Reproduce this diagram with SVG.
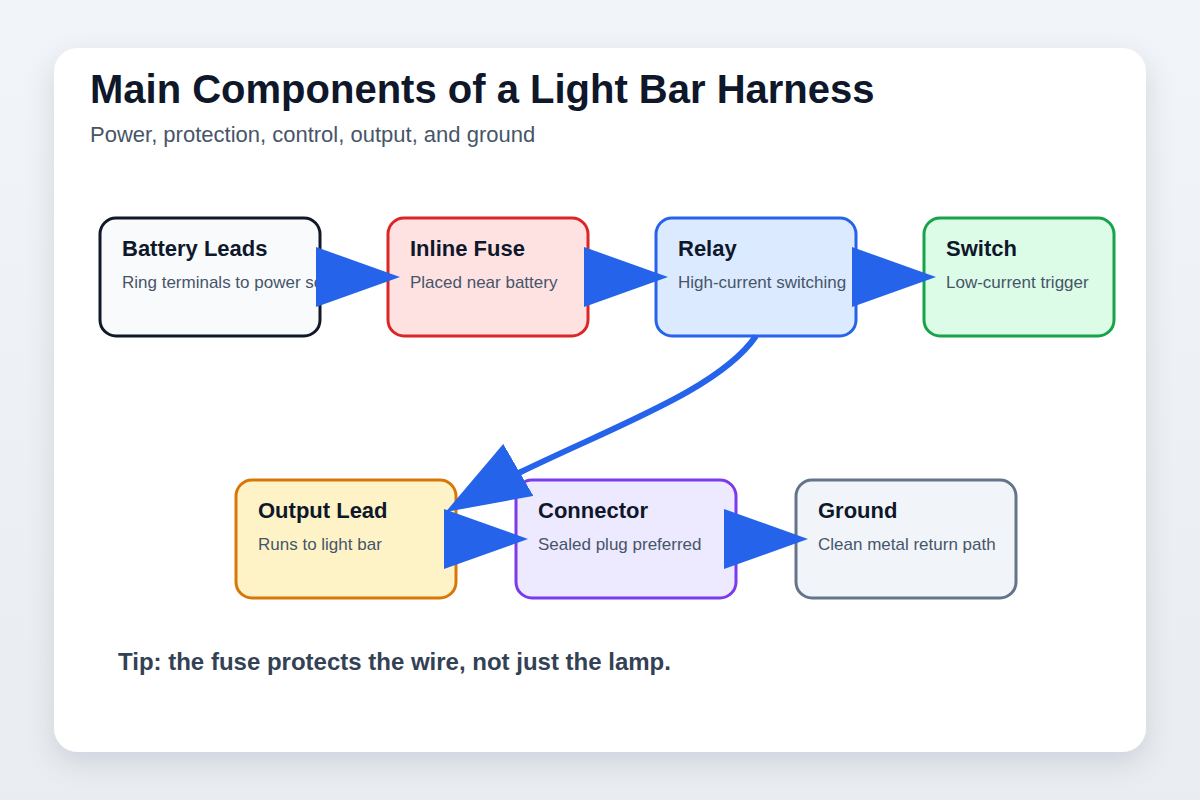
<svg xmlns="http://www.w3.org/2000/svg" width="1200" height="800" viewBox="0 0 1200 800">
  <style>
    .title { font-family: "Liberation Sans", Arial, sans-serif; font-weight: 700; font-size: 40px; fill: #0f172a; }
    .sub { font-family: "Liberation Sans", Arial, sans-serif; font-size: 22px; fill: #475569; }
    .nt { font-family: "Liberation Sans", Arial, sans-serif; font-weight: 700; font-size: 22px; fill: #0f172a; }
    .nd { font-family: "Liberation Sans", Arial, sans-serif; font-size: 17px; fill: #475569; }
    .tip { font-family: "Liberation Sans", Arial, sans-serif; font-weight: 700; font-size: 24px; fill: #334155; }
    .box { stroke-width: 3; }
    .edge { fill: none; stroke: #2563eb; stroke-width: 6; marker-end: url(#arrow); }
  </style>
  <defs>
    <linearGradient id="bg" x1="0" y1="0" x2="0" y2="1">
      <stop offset="0" stop-color="#f1f4f8"/>
      <stop offset="1" stop-color="#e9edf2"/>
    </linearGradient>
    <filter id="shadow" x="-10%" y="-10%" width="120%" height="125%">
      <feDropShadow dx="0" dy="10" stdDeviation="14" flood-color="#0f172a" flood-opacity="0.12"/>
    </filter>
    <marker id="arrow" viewBox="0 0 14 10" refX="12" refY="5" markerWidth="14" markerHeight="10" orient="auto" markerUnits="strokeWidth">
      <path d="M0,0 L14,5 L0,10 z" fill="#2563eb"/>
    </marker>
  </defs>
  <rect width="1200" height="800" fill="url(#bg)"/>
  <rect x="54" y="48" width="1092" height="704" rx="24" fill="#ffffff" filter="url(#shadow)"/>
  <text class="title" x="90" y="103">Main Components of a Light Bar Harness</text>
  <text class="sub" x="90" y="142">Power, protection, control, output, and ground</text>

  <g id="battery">
    <rect class="box" x="100" y="218" width="220" height="118" rx="16" fill="#f8fafc" stroke="#111827"/>
    <text class="nt" x="122" y="256">Battery Leads</text>
    <text class="nd" x="122" y="288">Ring terminals to power source</text>
  </g>
  <g id="fuse">
    <rect class="box" x="388" y="218" width="200" height="118" rx="16" fill="#fee2e2" stroke="#dc2626"/>
    <text class="nt" x="410" y="256">Inline Fuse</text>
    <text class="nd" x="410" y="288">Placed near battery</text>
  </g>
  <g id="relay">
    <rect class="box" x="656" y="218" width="200" height="118" rx="16" fill="#dbeafe" stroke="#2563eb"/>
    <text class="nt" x="678" y="256">Relay</text>
    <text class="nd" x="678" y="288">High-current switching</text>
  </g>
  <g id="switch">
    <rect class="box" x="924" y="218" width="190" height="118" rx="16" fill="#dcfce7" stroke="#16a34a"/>
    <text class="nt" x="946" y="256">Switch</text>
    <text class="nd" x="946" y="288">Low-current trigger</text>
  </g>
  <g id="output">
    <rect class="box" x="236" y="480" width="220" height="118" rx="16" fill="#fef3c7" stroke="#d97706"/>
    <text class="nt" x="258" y="518">Output Lead</text>
    <text class="nd" x="258" y="550">Runs to light bar</text>
  </g>
  <g id="connector">
    <rect class="box" x="516" y="480" width="220" height="118" rx="16" fill="#ede9fe" stroke="#7c3aed"/>
    <text class="nt" x="538" y="518">Connector</text>
    <text class="nd" x="538" y="550">Sealed plug preferred</text>
  </g>
  <g id="ground">
    <rect class="box" x="796" y="480" width="220" height="118" rx="16" fill="#f1f5f9" stroke="#64748b"/>
    <text class="nt" x="818" y="518">Ground</text>
    <text class="nd" x="818" y="550">Clean metal return path</text>
  </g>

  <g id="connectors">
    <path class="edge" d="M320,277 L388,277"/>
    <path class="edge" d="M588,277 L656,277"/>
    <path class="edge" d="M856,277 L924,277"/>
    <path class="edge" d="M756,336 C712,400 570,440 456,506"/>
    <path class="edge" d="M456,539 L516,539"/>
    <path class="edge" d="M736,539 L796,539"/>
  </g>

  <text class="tip" x="118" y="670">Tip: the fuse protects the wire, not just the lamp.</text>
</svg>
